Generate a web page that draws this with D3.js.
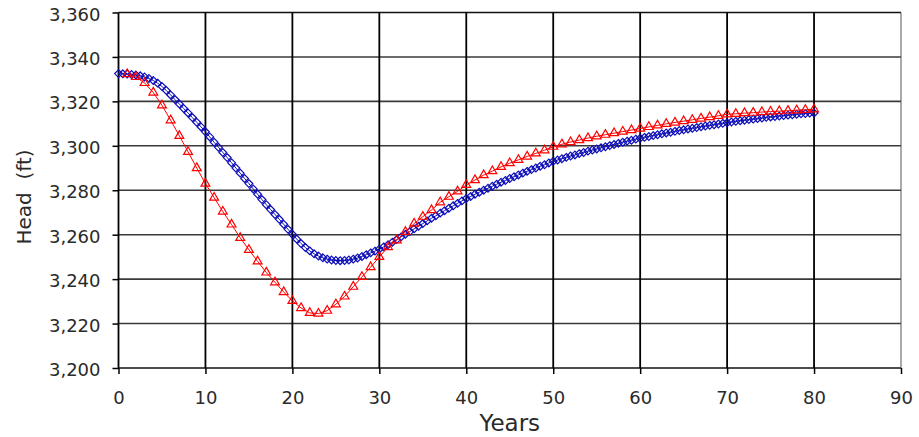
<!DOCTYPE html>
<html>
<head>
<meta charset="utf-8">
<script src="https://cdn.jsdelivr.net/npm/d3@7"></script>
<style>
  body { margin: 0; background: #fff; }
  text { font-family: "DejaVu Sans", sans-serif; fill: #2a2a2a; }
</style>
</head>
<body>
<div id="chart"></div>
<script>
// years and heads
const blueYears = d3.range(0, 80.5, 0.5);
const blueHead = [
  3332.5, 3332.4, 3332.3, 3332.1, 3331.9, 3331.5, 3331.0, 3330.3, 3329.4, 3328.2,
  3326.7, 3324.9, 3322.9, 3320.8, 3318.8, 3316.8, 3314.8, 3312.7, 3310.6, 3308.5,
  3306.3, 3304.0, 3301.6, 3299.3, 3297.0, 3294.7, 3292.4, 3290.0, 3287.7, 3285.3,
  3283.0, 3280.6, 3278.2, 3275.8, 3273.5, 3271.3, 3269.1, 3266.9, 3264.7, 3262.4,
  3260.2, 3258.0, 3256.0, 3254.2, 3252.7, 3251.4, 3250.4, 3249.6, 3249.0, 3248.6,
  3248.4, 3248.3, 3248.4, 3248.6, 3249.0, 3249.5, 3250.2, 3251.0, 3251.8, 3252.6,
  3253.5, 3254.5, 3255.5, 3256.6, 3257.8, 3259.0, 3260.2, 3261.4, 3262.6, 3263.8,
  3265.0, 3266.2, 3267.4, 3268.5, 3269.7, 3270.8, 3271.9, 3273.0, 3274.1, 3275.2,
  3276.3, 3277.2, 3278.2, 3279.1, 3280.0, 3280.9, 3281.8, 3282.7, 3283.6, 3284.4,
  3285.3, 3286.1, 3286.9, 3287.7, 3288.5, 3289.3, 3290.0, 3290.8, 3291.5, 3292.3,
  3293.0, 3293.6, 3294.2, 3294.8, 3295.4, 3295.9, 3296.5, 3297.0, 3297.6, 3298.1,
  3298.6, 3299.1, 3299.6, 3300.1, 3300.6, 3301.1, 3301.6, 3302.1, 3302.5, 3303.0,
  3303.4, 3303.8, 3304.2, 3304.6, 3305.0, 3305.4, 3305.8, 3306.1, 3306.5, 3306.9,
  3307.2, 3307.6, 3307.9, 3308.2, 3308.6, 3308.9, 3309.2, 3309.5, 3309.8, 3310.1,
  3310.4, 3310.7, 3311.0, 3311.3, 3311.5, 3311.8, 3312.0, 3312.3, 3312.5, 3312.8,
  3313.0, 3313.2, 3313.4, 3313.6, 3313.8, 3314.0, 3314.2, 3314.4, 3314.5, 3314.7,
  3314.8
];

const redYears = d3.range(1, 81);
const redHead = [
  3332.3, 3331.0, 3328.3, 3324.0, 3318.2, 3311.5, 3304.5, 3297.3, 3290.0, 3283.0,
  3276.7, 3270.4, 3264.6, 3258.6, 3253.2, 3248.0, 3243.0, 3238.6, 3234.2, 3230.2,
  3227.0, 3224.8, 3224.5, 3225.8, 3228.7, 3232.2, 3236.6, 3241.0, 3245.4, 3250.0,
  3254.4, 3257.5, 3261.3, 3265.0, 3268.1, 3271.1, 3274.6, 3277.1, 3279.5, 3282.4,
  3284.6, 3286.8, 3288.6, 3290.5, 3292.2, 3293.7, 3295.2, 3296.6, 3298.0, 3299.6,
  3300.7, 3301.7, 3302.6, 3303.5, 3304.3, 3305.0, 3305.7, 3306.4, 3307.1, 3307.8,
  3308.5, 3309.2, 3309.9, 3310.5, 3311.1, 3311.7, 3312.3, 3312.9, 3313.5, 3314.2,
  3314.4, 3314.7, 3314.9, 3315.2, 3315.4, 3315.6, 3315.8, 3316.0, 3316.2, 3316.4
];

const xTicks = [0, 10, 20, 30, 40, 50, 60, 70, 80, 90];
const yTicks = [3200, 3220, 3240, 3260, 3280, 3300, 3320, 3340, 3360];

const width = 919;
const height = 437;
const margin = { top: 12.5, right: 18, bottom: 69, left: 118.5 };

const svg = d3.select('#chart')
    .append('svg')
    .attr('width', width)
    .attr('height', height);

const x = d3.scaleLinear()
    .domain([0, 90])
    .range([margin.left, width - margin.right]);

const y = d3.scaleLinear()
    .domain([3200, 3360])
    .range([height - margin.bottom, margin.top]);

// horizontal grid
svg.append('g')
    .selectAll('line')
    .data(yTicks)
    .join('line')
    .attr('x1', x(0))
    .attr('x2', x(90))
    .attr('y1', d => y(d))
    .attr('y2', d => y(d))
    .attr('stroke', d => d === 3200 || d === 3360 ? '#111' : '#3a3a3a')
    .attr('stroke-width', 1.6);

// vertical grid
svg.append('g')
    .selectAll('line')
    .data(xTicks)
    .join('line')
    .attr('x1', d => x(d))
    .attr('x2', d => x(d))
    .attr('y1', y(3360))
    .attr('y2', y(3200))
    .attr('stroke', d => d === 90 ? '#555' : '#000')
    .attr('stroke-width', d => d === 90 ? 1 : 1.8);

function xAxis(g) {
    g.attr('transform', `translate(0,${y(3200)})`)
        .call(d3.axisBottom(x).tickValues(xTicks).tickSize(6).tickPadding(17))
        .attr('font-size', '18px');
    g.select('.domain').remove();
    g.selectAll('.tick line').attr('stroke', '#000').attr('stroke-width', 1.5);
}

function yAxis(g) {
    g.attr('transform', `translate(${x(0)},0)`)
        .call(d3.axisLeft(y).tickValues(yTicks).tickFormat(d3.format(',')).tickSize(6).tickPadding(12))
        .attr('font-size', '18px');
    g.select('.domain').remove();
    g.selectAll('.tick line').attr('stroke', '#000').attr('stroke-width', 1.5);
    g.selectAll('.tick text').attr('dy', '0.42em');
}

svg.append('g').call(xAxis);
svg.append('g').call(yAxis);
svg.selectAll('.tick text').attr('font-family', '"DejaVu Sans", sans-serif').attr('fill', '#2a2a2a');

// series
const blue = blueYears.map((d, i) => ({ x: d, y: blueHead[i] }));
const red = redYears.map((d, i) => ({ x: d, y: redHead[i] }));

const line = d3.line()
    .x(d => x(d.x))
    .y(d => y(d.y));

svg.append('path')
    .datum(blue)
    .attr('fill', 'none')
    .attr('stroke', '#0d0db8')
    .attr('stroke-width', 1)
    .attr('d', line);

svg.append('g')
    .selectAll('path')
    .data(blue)
    .join('path')
    .attr('transform', d => `translate(${x(d.x)},${y(d.y)})`)
    .attr('d', d3.symbol(d3.symbolDiamond2, 38))
    .attr('fill', 'none')
    .attr('stroke', '#0d0db8')
    .attr('stroke-width', 1.2);

svg.append('path')
    .datum(red)
    .attr('fill', 'none')
    .attr('stroke', '#ff0000')
    .attr('stroke-width', 1)
    .attr('d', line);

svg.append('g')
    .selectAll('path')
    .data(red)
    .join('path')
    .attr('transform', d => `translate(${x(d.x)},${y(d.y)})`)
    .attr('d', d3.symbol(d3.symbolTriangle2, 56))
    .attr('fill', 'none')
    .attr('stroke', '#ff0000')
    .attr('stroke-width', 1.2);

// axis titles
svg.append('text')
    .attr('x', x(45))
    .attr('y', 431)
    .attr('text-anchor', 'middle')
    .attr('font-size', '23px')
    .text('Years');

svg.append('text')
    .attr('transform', `translate(31,197) rotate(-90)`)
    .attr('text-anchor', 'middle')
    .attr('font-size', '20px')
    .style('white-space', 'pre')
    .text('Head  (ft)');
</script>
</body>
</html>
